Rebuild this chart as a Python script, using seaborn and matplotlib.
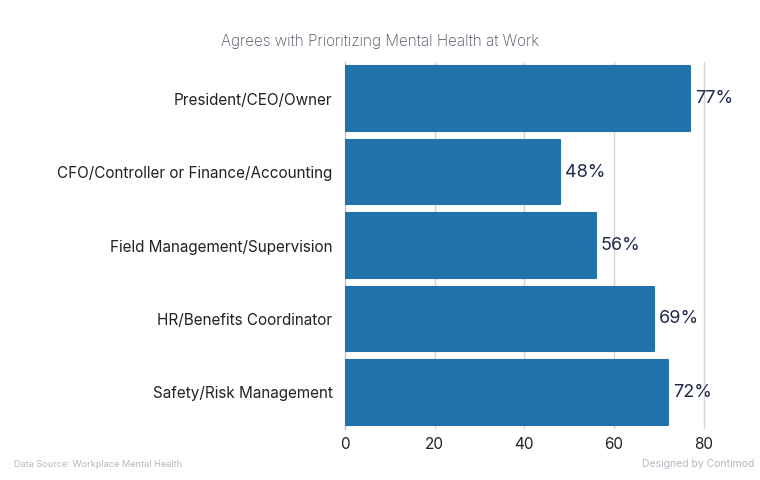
import matplotlib
matplotlib.use("Agg")
import matplotlib.pyplot as plt
import seaborn as sns
import pandas as pd

categories = ["President/CEO/Owner",
              "CFO/Controller or Finance/Accounting",
              "Field Management/Supervision",
              "HR/Benefits Coordinator",
              "Safety/Risk Management"]
values = [77, 48, 56, 69, 72]
xticks = [0, 20, 40, 60, 80]

sns.set_theme(style="white")
plt.rcParams['font.family'] = ['Inter', 'DejaVu Sans']

df = pd.DataFrame({"role": categories, "pct": values})

fig = plt.figure(figsize=(7.6, 4.8), dpi=100)
ax = fig.add_axes([0.4539, 0.106, 0.475, 0.765])

bar_color = "#2172AB"
sns.barplot(data=df, y="role", x="pct", orient="h", color=bar_color,
            saturation=1, width=0.88, ax=ax, zorder=3)
for p in ax.patches:
    p.set_edgecolor(bar_color)
    p.set_linewidth(1.5)
    p.set_joinstyle("round")

ax.set_xlim(0, 80.5)
ax.set_xticks(xticks)
ax.set_xticklabels([str(t) for t in xticks], fontsize=11, color="#222222")
ax.tick_params(axis="y", labelsize=11, labelcolor="#222222", length=0, pad=9)
ax.tick_params(axis="x", length=0, pad=6)
ax.set_xlabel("")
ax.set_ylabel("")
ax.grid(axis="x", color="#d6d6d6", linewidth=1, zorder=0)
for s in ["top", "right", "bottom"]:
    ax.spines[s].set_visible(False)
ax.spines["left"].set_color("#c8c8c8")
ax.spines["left"].set_linewidth(1)

for i, v in enumerate(values):
    ax.text(v + 1.1, i, f"{v}%", va="center", ha="left",
            fontsize=13, color="#1e2a4a", zorder=4)

fig.text(0.5, 0.914, "Agrees with Prioritizing Mental Health at Work",
         ha="center", va="center", fontsize=11, fontweight="light",
         color="#4a4d5e")
fig.text(0.018, 0.033, "Data Source: Workplace Mental Health",
         ha="left", va="center", fontsize=6.6, color="#b3b7c2")
fig.text(0.992, 0.033, "Designed by Contimod",
         ha="right", va="center", fontsize=7.5, color="#b3b7c2")

fig.savefig("out.png", dpi=100)
